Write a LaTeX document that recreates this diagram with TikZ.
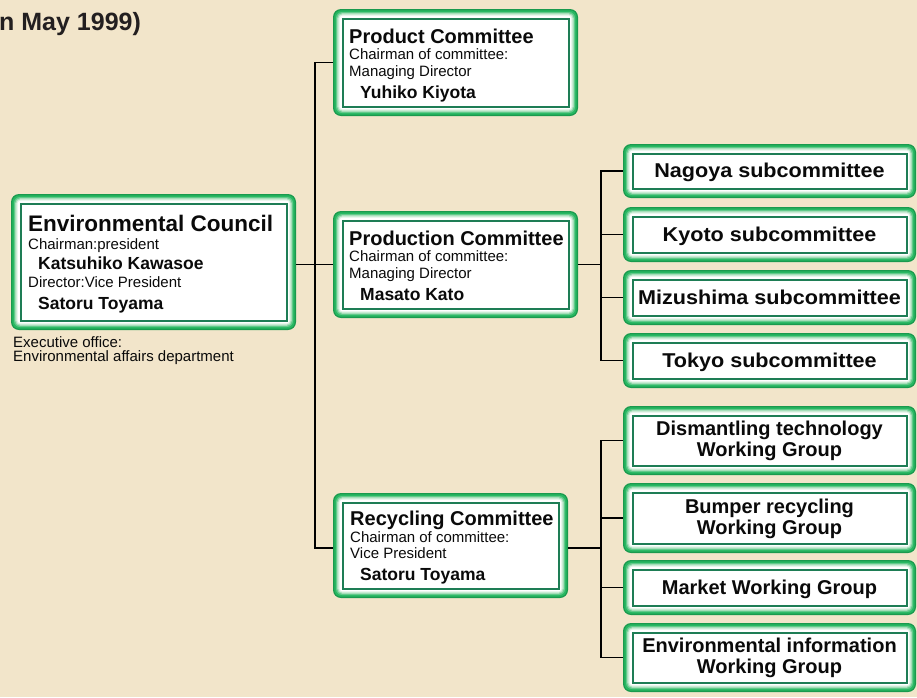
\documentclass[tikz,border=0pt]{standalone}
\usepackage{fontspec}
\setmainfont{Liberation Sans}
\definecolor{bg}{HTML}{F2E5CA}
\definecolor{gA}{HTML}{1A9A4E}
\definecolor{gB}{HTML}{28B862}
\definecolor{gC}{HTML}{62C98A}
\definecolor{gD}{HTML}{A5DEB9}
\definecolor{gE}{HTML}{DDF2E4}
\definecolor{gI}{HTML}{1E7D55}
\definecolor{ink}{HTML}{0A0A0A}
\newcommand\gLayer[3]{\fill[#2, rounded corners=#3] ([shift={(#1,-#1)}]path picture bounding box.north west) rectangle ([shift={(-#1,#1)}]path picture bounding box.south east);}
\begin{document}
\begin{tikzpicture}[x=1pt,y=-1pt,
  gbox/.style={rounded corners=8pt, fill=gA, inner sep=0pt, draw=none,
    path picture={
      \gLayer{1.3pt}{gB}{7pt}
      \gLayer{3pt}{gC}{6pt}
      \gLayer{4.2pt}{gD}{5pt}
      \gLayer{5.4pt}{gE}{4pt}
      \gLayer{6.6pt}{white}{3pt}
      \draw[gI, line width=2pt, sharp corners] ([shift={(9.5pt,-9.5pt)}]path picture bounding box.north west) rectangle ([shift={(-9.5pt,9.5pt)}]path picture bounding box.south east);
    }},
  ttl/.style={font=\fontsize{20}{22}\selectfont\bfseries, text=ink, anchor=base west, inner sep=0pt},
  sub/.style={font=\fontsize{15}{16}\selectfont, text=ink, anchor=base west, inner sep=0pt},
  nm/.style={font=\fontsize{17.5}{19}\selectfont\bfseries, text=ink, anchor=base west, inner sep=0pt},
  bxt/.style={font=\fontsize{20}{22}\selectfont\bfseries, text=ink, anchor=base, inner sep=0pt},
  sct/.style={bxt, font=\fontsize{20}{22}\selectfont\bfseries\addfontfeature{FakeStretch=1.08}},
  conn/.style={line width=1.9pt, black}
]
\useasboundingbox[fill=bg] (0,0) rectangle (917,697);

% title fragment
\node[font=\fontsize{25}{27}\selectfont\bfseries, text={rgb,255:red,35;green,31;blue,32}, anchor=base west, inner sep=0pt] (title) at (-1,30) {n May 1999)};

% boxes
\node[gbox, minimum width=285pt, minimum height=136pt] (council) at (153.5,262) {};
\node[gbox, minimum width=245pt, minimum height=107pt] (product) at (455.5,62.5) {};
\node[gbox, minimum width=245pt, minimum height=107pt] (prodn) at (455.5,264.5) {};
\node[gbox, minimum width=235pt, minimum height=105pt] (recyc) at (450.5,545.5) {};

\node[gbox, minimum width=293pt, minimum height=54pt] (nagoya) at (769.5,171) {};
\node[gbox, minimum width=293pt, minimum height=55pt] (kyoto) at (769.5,234.5) {};
\node[gbox, minimum width=293pt, minimum height=55pt] (mizu) at (769.5,297.5) {};
\node[gbox, minimum width=293pt, minimum height=55pt] (tokyo) at (769.5,360.5) {};

\node[gbox, minimum width=293pt, minimum height=69pt] (dism) at (769.5,440.5) {};
\node[gbox, minimum width=293pt, minimum height=70pt] (bump) at (769.5,518) {};
\node[gbox, minimum width=293pt, minimum height=55pt] (market) at (769.5,587.5) {};
\node[gbox, minimum width=293pt, minimum height=69pt] (envi) at (769.5,657.5) {};

% council text
\node[font=\fontsize{22.5}{24}\selectfont\bfseries, text=ink, anchor=base west, inner sep=0pt] (c1) at (28,231) {Environmental Council};
\node[sub] (c2) at (28,249) {Chairman:president};
\node[nm] (c3) at (38,269) {Katsuhiko Kawasoe};
\node[sub] (c4) at (28,287) {Director:Vice President};
\node[nm] (c5) at (38,309) {Satoru Toyama};
\node[sub] (e1) at (13,347) {Executive office:};
\node[sub] (e2) at (13,361) {Environmental affairs department};

% product
\node[ttl] (p1) at (349,43) {Product Committee};
\node[sub] (p2) at (349,59) {Chairman of committee:};
\node[sub] (p3) at (349,76) {Managing Director};
\node[nm] (p4) at (360,98) {Yuhiko Kiyota};

% production
\node[ttl] (q1) at (349,245) {Production Committee};
\node[sub] (q2) at (349,261) {Chairman of committee:};
\node[sub] (q3) at (349,278) {Managing Director};
\node[nm] (q4) at (360,300) {Masato Kato};

% recycling
\node[ttl] (r1) at (350,525) {Recycling Committee};
\node[sub] (r2) at (350,542) {Chairman of committee:};
\node[sub] (r3) at (350,558) {Vice President};
\node[nm] (r4) at (360,580) {Satoru Toyama};

% right box texts
\node[sct] (t1) at (769.5,177.5) {Nagoya subcommittee};
\node[sct] (t2) at (769.5,241) {Kyoto subcommittee};
\node[sct] (t3) at (769.5,304) {Mizushima subcommittee};
\node[sct] (t4) at (769.5,367) {Tokyo subcommittee};
\node[bxt] (w1a) at (769.5,435) {Dismantling technology};
\node[bxt] (w1b) at (769.5,456.5) {Working Group};
\node[bxt] (w2a) at (769.5,513) {Bumper recycling};
\node[bxt] (w2b) at (769.5,534.5) {Working Group};
\node[bxt] (w3) at (769.5,594) {Market Working Group};
\node[bxt] (w4a) at (769.5,652) {Environmental information};
\node[bxt] (w4b) at (769.5,673.5) {Working Group};

% connectors
\coordinate (ja) at (315,0);
\coordinate (jb) at (601,0);
\draw[conn] (council.east |- prodn.west) -- (prodn.west);
\draw[conn] (product.west) -- (product.west -| ja) |- ([yshift=-2.5pt]recyc.west);
\draw[conn] (prodn.east) -- (prodn.east -| jb);
\draw[conn] (nagoya.west) -- (nagoya.west -| jb) |- (tokyo.west);
\draw[conn] (kyoto.west) -- (kyoto.west -| jb);
\draw[conn] (mizu.west) -- (mizu.west -| jb);
\draw[conn] ([yshift=-2.5pt]recyc.east) -- ([yshift=-2.5pt]recyc.east -| jb);
\draw[conn] (dism.west) -- (dism.west -| jb) |- (envi.west);
\draw[conn] (bump.west) -- (bump.west -| jb);
\draw[conn] (market.west) -- (market.west -| jb);
\end{tikzpicture}
\end{document}
